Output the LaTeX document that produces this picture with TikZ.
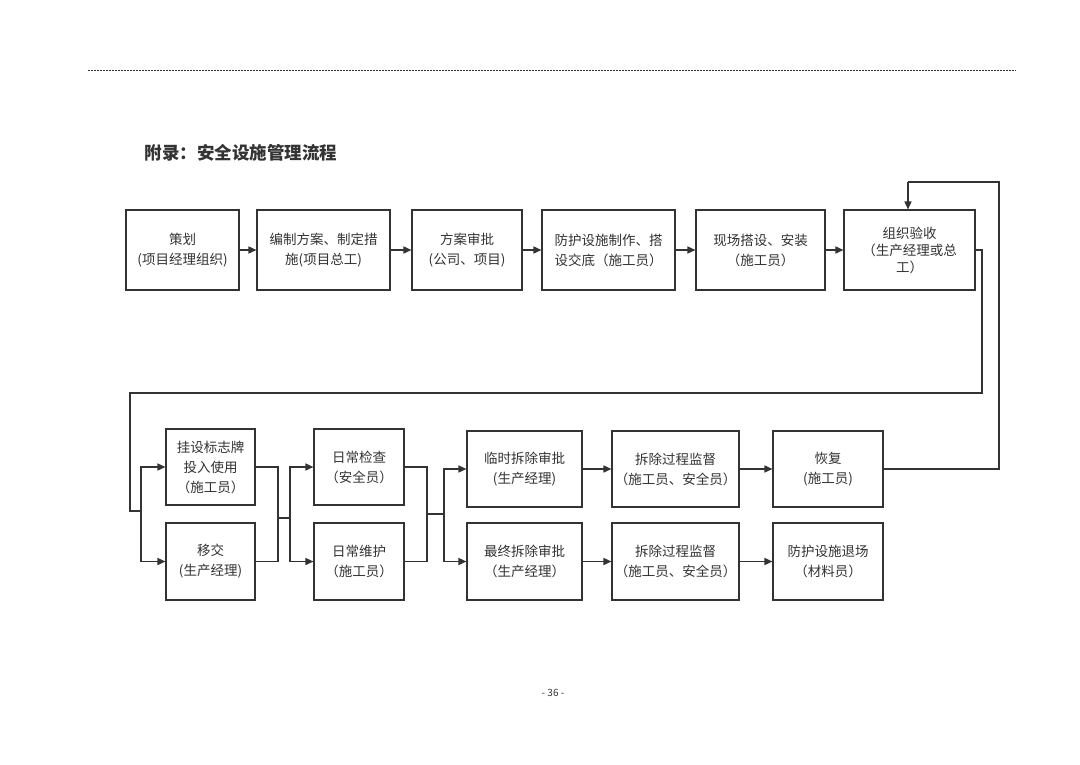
\documentclass[tikz,border=0pt]{standalone}
\usepackage{fontspec}
\setmainfont{Noto Sans CJK SC}
\usetikzlibrary{arrows.meta}
\definecolor{ink}{HTML}{333333}
\begin{document}
\begin{tikzpicture}[x=1pt,y=-1pt,
  box/.style={draw=ink,line width=1.1pt,rectangle,inner sep=0pt,align=center,
    font=\fontsize{13.5}{20}\selectfont,text=ink},
  conn/.style={draw=ink,line width=1.5pt},
  arr/.style={conn,-{Triangle[length=8pt,width=7pt]}}]
\useasboundingbox (0,0) rectangle (1080,764);
\fill[white] (0,0) rectangle (1080,764);
% header
\coordinate (h1) at (88,70);
\coordinate (h2) at (1016,70);
\draw[ink,line width=0.7pt,dash pattern=on 2pt off 1pt] (h1) -- (h2);
\node[anchor=west,font=\fontsize{17.5}{20}\selectfont\bfseries,text=ink] (title) at (141,153) {附录：安全设施管理流程};
\node[font=\fontsize{10}{12}\selectfont,text=ink] (page) at (553,693) {- 36 -};
% top row
\node[box,minimum width=113,minimum height=80] (a1) at (182.5,250) {策划\\(项目经理组织)};
\node[box,minimum width=133,minimum height=80] (a2) at (323.5,250) {编制方案、制定措\\施(项目总工)};
\node[box,minimum width=110,minimum height=80] (a3) at (467,250) {方案审批\\(公司、项目)};
\node[box,minimum width=133,minimum height=80] (a4) at (608.5,250) {防护设施制作、搭\\设交底（施工员）};
\node[box,minimum width=129,minimum height=80] (a5) at (760.5,250) {现场搭设、安装\\（施工员）};
\node[box,minimum width=131,minimum height=80,font=\fontsize{13.5}{17}\selectfont,text depth=0pt] (a6) at (909.5,250) {\raisebox{0pt}{组织验收}\\（生产经理或总\\工）};
% bottom
\node[box,minimum width=89,minimum height=76] (b1) at (210.5,467) {挂设标志牌\\投入使用\\（施工员）};
\node[box,minimum width=89,minimum height=77] (b2) at (210.5,561.5) {移交\\(生产经理)};
\node[box,minimum width=90,minimum height=76] (c1) at (359,467) {日常检查\\（安全员）};
\node[box,minimum width=90,minimum height=77] (c2) at (359,561.5) {日常维护\\（施工员）};
\node[box,minimum width=115,minimum height=76] (d1) at (524.5,469) {临时拆除审批\\(生产经理)};
\node[box,minimum width=115,minimum height=77] (d2) at (524.5,561.5) {最终拆除审批\\（生产经理）};
\node[box,minimum width=127,minimum height=76] (e1) at (675.5,469) {拆除过程监督\\（施工员、安全员）};
\node[box,minimum width=127,minimum height=77] (e2) at (675.5,561.5) {拆除过程监督\\（施工员、安全员）};
\node[box,minimum width=110,minimum height=76] (f1) at (828,469) {恢复\\(施工员)};
\node[box,minimum width=110,minimum height=77] (f2) at (828,561.5) {防护设施退场\\（材料员）};
% top connectors
\draw[arr] (a1) -- (a2);
\draw[arr] (a2) -- (a3);
\draw[arr] (a3) -- (a4);
\draw[arr] (a4) -- (a5);
\draw[arr] (a5) -- (a6);
% down and back
\coordinate (r1) at (982,393);
\coordinate (l1) at (130,511);
\coordinate (k1) at (141,511);
\draw[conn] (a6.east) -| (r1) -| (l1) -- (k1);
\draw[arr] (k1) |- (b1.west);
\draw[arr] (k1) |- (b2.west);
% b to c
\coordinate (j1) at (278,518);
\coordinate (j2) at (290,518);
\draw[conn] (b1.east) -| (j1);
\draw[conn] (b2.east) -| (j1);
\draw[conn] (j1) -- (j2);
\draw[arr] (j2) |- (c1.west);
\draw[arr] (j2) |- (c2.west);
% c to d
\coordinate (j3) at (427,514);
\coordinate (j4) at (444,514);
\draw[conn] (c1.east) -| (j3);
\draw[conn] (c2.east) -| (j3);
\draw[conn] (j3) -- (j4);
\draw[arr] (j4) |- (d1.west);
\draw[arr] (j4) |- (d2.west);
% rows
\draw[arr] (d1) -- (e1);
\draw[arr] (e1) -- (f1);
\draw[arr] (d2) -- (e2);
\draw[arr] (e2) -- (f2);
% loop back
\coordinate (t1) at (999,182);
\coordinate (t2) at (908,182);
\draw[conn] (f1.east) -| (t1) -- (t2);
\draw[arr] (t2) -- (t2 |- a6.north);
\end{tikzpicture}
\end{document}
